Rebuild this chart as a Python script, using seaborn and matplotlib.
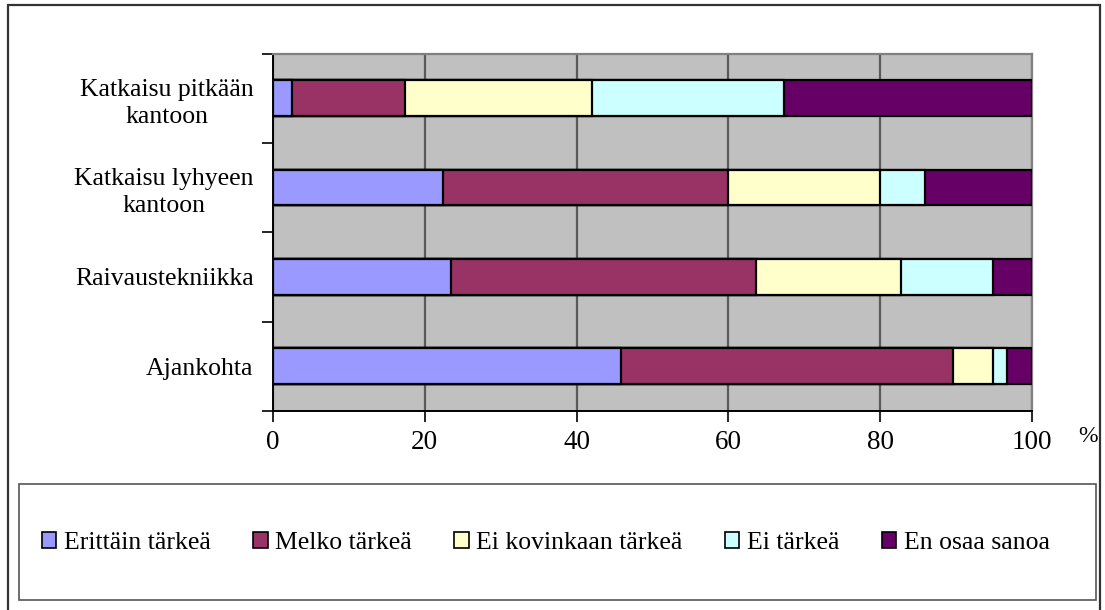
import numpy as np
import pandas as pd
import matplotlib
matplotlib.use("Agg")
import matplotlib.pyplot as plt
from matplotlib.patches import Patch, Rectangle
from matplotlib.ticker import FixedLocator
import seaborn as sns

# Survey answers (%) per clearing aspect
categories = ["Katkaisu pitkään\nkantoon", "Katkaisu lyhyeen\nkantoon", "Raivaustekniikka", "Ajankohta"]
series = ["Erittäin tärkeä", "Melko tärkeä", "Ei kovinkaan tärkeä", "Ei tärkeä", "En osaa sanoa"]
erittain_tarkea = [2.5, 22.4, 23.5, 45.8]
melko_tarkea = [14.9, 37.6, 40.1, 43.8]
ei_kovinkaan = [24.6, 20.0, 19.1, 5.3]
ei_tarkea = [25.3, 5.9, 12.2, 1.8]
en_osaa = [32.7, 14.1, 5.1, 3.3]
x_ticks = [0, 20, 40, 60, 80, 100]

colors = ["#9999FF", "#993366", "#FFFFCC", "#CCFFFF", "#660066"]

values = [erittain_tarkea, melko_tarkea, ei_kovinkaan, ei_tarkea, en_osaa]
df = pd.DataFrame({name: vals for name, vals in zip(series, values)}, index=categories)
cum = df.cumsum(axis=1)

sns.set_theme(style="white")
plt.rcParams["font.family"] = ["Liberation Serif", "DejaVu Serif"]
plt.rcParams["text.color"] = "black"
plt.rcParams["xtick.color"] = "black"
plt.rcParams["ytick.color"] = "black"

fig = plt.figure(figsize=(11.05, 6.10), dpi=100)
fig.patch.set_facecolor("white")
ax = fig.add_axes([273 / 1105, 1 - 411 / 610, (1032 - 273) / 1105, (411 - 53.5) / 610])
ax.set_facecolor("#C0C0C0")

# Stacked bars: draw cumulative totals from the last series back to the first
for name, color in reversed(list(zip(series, colors))):
    d = pd.DataFrame({"cat": categories, "val": cum[name].values})
    sns.barplot(data=d, x="val", y="cat", orient="h", color=color, width=0.4,
                saturation=1, edgecolor="black", linewidth=1.6, ax=ax, zorder=3)

ax.set_xlim(0, 100)
ax.set_ylim(3.5, -0.5)
ax.set_xlabel("")
ax.set_ylabel("")

ax.set_xticks(x_ticks)
ax.set_xticklabels([str(t) for t in x_ticks])
ax.tick_params(axis="x", direction="out", length=8, width=1.2, color="black",
               pad=6, labelsize=19.5, bottom=True)
ax.tick_params(axis="y", which="major", length=0, pad=14, labelsize=18.5, left=True)
ax.yaxis.set_minor_locator(FixedLocator([-0.5, 0.5, 1.5, 2.5, 3.5]))
ax.tick_params(axis="y", which="minor", direction="out", length=8, width=1.2,
               color="black", left=True)
for lbl in ax.get_yticklabels():
    lbl.set_multialignment("center")
    lbl.set_linespacing(1.3)

ax.xaxis.grid(True, color="#5a5a5a", linewidth=1.6, zorder=0)
ax.yaxis.grid(False)
ax.set_axisbelow(True)

for side in ["left", "bottom"]:
    ax.spines[side].set_color("black")
    ax.spines[side].set_linewidth(1.4)
for side in ["top", "right"]:
    ax.spines[side].set_color("#808080")
    ax.spines[side].set_linewidth(1.6)

fig.text(1088 / 1105, 1 - 437 / 610, "%", ha="center", va="center", fontsize=17)

# Outer chart frame
fig.add_artist(Rectangle((8 / 1105, -0.02), (1100 - 8) / 1105, 1 - 5 / 610 + 0.02,
                         transform=fig.transFigure, fill=False,
                         edgecolor="#333333", linewidth=1.6))

# Legend box
fig.add_artist(Rectangle((19 / 1105, 1 - 600 / 610), (1096 - 19) / 1105, (600 - 484) / 610,
                         transform=fig.transFigure, fill=False,
                         edgecolor="#555555", linewidth=1.2))

handles = [Patch(facecolor=c, edgecolor="black", linewidth=1.2) for c in colors]
fig.legend(handles, series, loc="center", bbox_to_anchor=(546 / 1105, 1 - 543 / 610),
           ncol=5, frameon=False, fontsize=18.5, handlelength=0.55, handleheight=0.55,
           handletextpad=0.3, columnspacing=1.65)

fig.savefig("out.png", dpi=100, facecolor="white")
